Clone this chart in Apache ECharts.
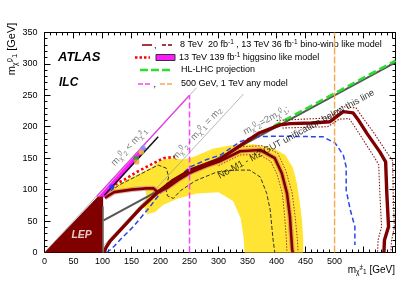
<!DOCTYPE html>
<html><head><meta charset="utf-8">
<script src="https://cdn.jsdelivr.net/npm/echarts@6/dist/echarts.min.js"></script>
<style>html,body{margin:0;padding:0;background:#fff}#c{width:418px;height:289px}</style>
</head><body><div id="c"></div>
<script>
// ---------------- data (GeV) ----------------
const xTickLabels = [0,50,100,150,200,250,300,350,400,450,500];
const yTickLabels = [0,50,100,150,200,250,300,350];

const lepRegion = [[0,0],[92,89],[101,89],[101,0]];
const lepEdge = [[101,0],[101,73]];

const higgsinoFill = [[93,89],[170,168],[176,165],[104,88]];
const higgsinoEdge = [[103,91],[196,184]];
const higgsinoObs = [[116,102],[125,110],[136,115],[159,128],[182,139],[205,150],[225,152]];
const higgsinoPoints = [[116,104],[158,150],[159,144],[167,160],[170,166]];

const binoWinoBand = [[103,95],[130,110],[160,124],[185,136],[200,146],[218,150],[240,148],[260,153],[290,165],[320,170],[360,172],[394,166],[415,155],[428,135],[435,110],[440,80],[444,50],[446,20],[446,0],[345,0],[343,25],[338,55],[325,82],[300,96],[262,94],[230,86],[205,76],[190,64],[177,61],[172,72],[176,90],[172,106],[150,102],[125,95],[105,88]];
const binoWinoExp = [[105,92],[130,108],[160,122],[185,134],[196,139],[210,134],[214,120],[209,102],[212,90],[222,86],[234,98],[260,114],[297,128],[330,131],[354,131],[372,120],[383,94],[389,68],[394,20],[397,0]];

const obs13 = [[103,0],[106,8],[113,18],[125,30],[145,50],[165,70],[193,94],[222,115],[251,131],[291,145],[302,148],[337,170],[370,190],[406,203],[423,205],[460,206],[492,208],[515,224],[532,222],[540,212],[556,189],[578,160],[588,144],[590,94],[593,41],[586,20],[585,0]];
const obs13Up = [[400,210],[492,214],[512,232],[537,230],[548,215],[568,190],[588,162],[600,146],[601,95],[603,40],[598,18],[597,0]];
const obs13Down = [[410,198],[488,200],[508,212],[525,213],[532,204],[546,184],[566,155],[576,140],[578,94],[581,41],[575,20],[574,0]];

const obs8 = [[104,87],[120,96],[150,100],[175,102],[188,102],[195,96],[210,102],[230,115],[251,127],[280,138],[302,145],[337,161],[372,163],[397,150],[409,126],[418,94],[423,57],[427,4],[428,0]];
const obs8Up = [[305,152],[340,168],[375,170],[402,158],[416,130],[427,94],[432,57],[436,20],[437,0]];
const obs8Down = [[300,138],[337,155],[370,156],[390,145],[401,124],[410,94],[414,57],[417,20],[418,0]];

const exp139 = [[107,0],[113,4],[120,10],[130,20],[153,41],[182,73],[200,95],[225,115],[251,136],[280,148],[303,155],[337,176],[360,184],[400,185],[480,184],[501,174],[515,155],[520,136],[520,99],[527,68],[535,41],[535,12]];
const hlLhc = [[395,201],[605,305]];

const diagLine = [[0,0],[262,262]];
const mzLine = [[91,0],[343,252]];
const twoMLine = [[101,50.5],[605,302.5]];

const ilc500Diag = [[90,89],[250,250]];
const ilc500Vert = [[250,0],[250,250]];
const ilc1000Vert = [[500,0],[500,350]];

// label anchors (data coordinates)
const lblLEP = [64,28];
const lblDiag = [146,168];
const lblMz = [263,189];
const lblTwoM = [382,210];
const lblGut = [434,188];

// ---------------- styling ----------------
const F = 'Liberation Sans, Arial, sans-serif';
const DR = '#800000';
const sub = {fontSize:6.5, padding:[5,0,0,0], fontFamily:F};
const sup = {fontSize:6.5, padding:[0,0,5,0], fontFamily:F};

function poly(data, fill, stroke, lw, z){
  return {type:'custom', coordinateSystem:'cartesian2d', data:data, z:z, silent:true, animation:false,
    renderItem:function(params, api){
      if(params.dataIndex!==0) return null;
      const pts = data.map(p=>api.coord(p));
      return {type:'polygon', shape:{points:pts}, style:{fill:fill, stroke:stroke||null, lineWidth:lw||0}};
    }};
}
function ln(data, color, width, type, z, extra){
  return Object.assign({type:'line', data:data, symbol:'none', showSymbol:false, silent:true, animation:false, z:z,
    lineStyle:{color:color, width:width, type:type||'solid', cap:'butt', join:'round'}}, extra||{});
}
function lbl(pos, text, rot, color, size, weight, style, rich){
  return {value:pos, label:{show:true, position:'inside', formatter:text, rotate:rot, color:color,
    fontSize:size, fontWeight:weight||'normal', fontStyle:style||'normal', fontFamily:F, rich:rich||{}}};
}
const richG = {sb:Object.assign({color:'#555'},sub), sp:Object.assign({color:'#555'},sup)};
const richK = {sb:Object.assign({color:'#000'},sub), sp:Object.assign({color:'#000'},sup)};
const richT = {sb:{color:'#000', fontSize:7.5, padding:[5,0,0,0], fontFamily:F}, sp:{color:'#000', fontSize:7.5, padding:[0,0,5,0], fontFamily:F}};

const axisCommon = {
  axisLine:{show:true, onZero:false, lineStyle:{color:'#000', width:1}},
  axisTick:{show:true, inside:true, length:6, lineStyle:{color:'#000', width:1}},
  minorTick:{show:true, splitNumber:5, length:3, lineStyle:{color:'#000', width:1}},
  splitLine:{show:false}
};

const chart = echarts.init(document.getElementById('c'), null, {renderer:'canvas'});
chart.setOption({
  animation:false,
  backgroundColor:'#fff',
  grid:{left:44.5, right:22.5, top:32.4, bottom:36.5, containLabel:false},
  xAxis:[
    Object.assign({type:'value', min:0, max:605, interval:50, position:'bottom',
      axisLabel:{formatter:v=>xTickLabels.includes(v)?String(v):'', margin:5, fontSize:9, color:'#000', fontFamily:F}}, axisCommon),
    Object.assign({type:'value', min:0, max:605, interval:50, position:'top', axisLabel:{show:false}}, axisCommon)
  ],
  yAxis:[
    Object.assign({type:'value', min:0, max:350, interval:50, position:'left',
      axisLabel:{formatter:v=>yTickLabels.includes(v)?String(v):'', margin:7, fontSize:9, color:'#000', fontFamily:F}}, axisCommon),
    Object.assign({type:'value', min:0, max:350, interval:50, position:'right', axisLabel:{show:false}}, axisCommon)
  ],
  series:[
    poly(binoWinoBand, '#ffe433', null, 0, 1),
    ln(diagLine, '#9a9a9a', 0.7, 'solid', 2),
    ln(mzLine, '#9a9a9a', 0.7, 'solid', 2),
    ln(twoMLine, '#555555', 2, 'solid', 3),
    ln(binoWinoExp, '#333333', 1, [4,2], 4),
    ln(hlLhc, '#2ede2e', 2.6, [8,4], 4),
    ln(exp139, '#2a44ee', 1.5, [5,3], 5),
    ln(ilc1000Vert, '#f5aa50', 1.4, [7,2], 5),
    ln(obs13Up, '#8b1a1a', 1.1, [1.5,1.5], 6),
    ln(obs13Down, '#8b1a1a', 1.1, [1.5,1.5], 6),
    ln(obs8Up, '#a33', 1.0, [1.5,1.5], 6),
    ln(obs8Down, '#a33', 1.0, [1.5,1.5], 6),
    ln(obs8, 'rgba(205,110,110,0.55)', 5, 'solid', 6),
    ln(obs8, DR, 2.6, 'solid', 7),
    ln(obs13, DR, 3.4, 'solid', 7),
    ln(higgsinoObs, '#ff0000', 2.6, [2.5,2.5], 8),
    poly(higgsinoFill, '#ff1aff', null, 0, 8),
    ln(higgsinoEdge, '#111', 1.5, 'solid', 9),
    ln(ilc500Diag, '#e040e0', 1.3, 'solid', 9),
    ln(ilc500Vert, '#ff40ff', 1.5, [6,3], 9),
    poly(lepRegion, DR, null, 0, 10),
    ln(lepEdge, '#777', 1.5, 'solid', 10),
    {type:'scatter', z:11, silent:true, animation:false, symbolSize:5.5,
      data:higgsinoPoints.map((p,i)=>({value:p, itemStyle:{color:['#1f3fff','#2e9b2e','#f5a040','#f0d020','#7aa0ff'][i]}}))},
    {type:'scatter', z:12, silent:true, animation:false, symbolSize:0,
      data:[
        lbl(lblLEP, 'LEP', 0, '#fff', 10.5, 'bold', 'italic'),
        lbl(lblDiag, 'm{sb|χ̃}{sp|0}{sb|2} < m{sb|χ̃}{sp|±}{sb|1}', 47, '#555', 9.5, 'normal', 'normal', richG),
        lbl(lblMz, 'm{sb|χ̃}{sp|0}{sb|2} - m{sb|χ̃}{sp|0}{sb|1} = m{sb|Z}', 47, '#555', 9.5, 'normal', 'normal', richG),
        lbl(lblTwoM, 'm{sb|χ̃}{sp|0}{sb|2}=2m{sb|χ̃}{sp|0}{sb|1};', 28.5, '#555', 9.5, 'normal', 'normal', richG),
        lbl(lblGut, 'No-M1 - M2 GUT unification below this line', 28.5, '#000', 9.3, 'normal', 'normal', richK)
      ]}
  ],
  graphic:[
    {type:'text', x:58, y:57, style:{text:'ATLAS', font:'italic bold 13px '+F, fill:'#000', verticalAlign:'middle'}},
    {type:'text', x:59, y:83, style:{text:'ILC', font:'italic bold 12px '+F, fill:'#000', verticalAlign:'middle'}},
    // y-axis title
    {type:'text', x:12, y:49, rotation:Math.PI/2, style:{text:'m{sb|χ̃}{sp|0}{sb|1} [GeV]', font:'11px '+F, fill:'#000', align:'center', verticalAlign:'middle', rich:richT}},
    // x-axis title
    {type:'text', x:395, y:270, style:{text:'m{sb|χ̃}{sp|±}{sb|1} [GeV]', font:'10px '+F, fill:'#000', align:'right', verticalAlign:'middle', rich:richK}},
    // legend row 1
    {type:'line', shape:{x1:142,y1:45,x2:152,y2:45}, style:{stroke:'#a03c3c', lineWidth:2}},
    {type:'text', x:154, y:46, style:{text:',', font:'9px '+F, fill:'#000', verticalAlign:'middle'}},
    {type:'line', shape:{x1:162,y1:45,x2:173,y2:45}, style:{stroke:'#a03c3c', lineWidth:2, lineDash:[4,2]}},
    {type:'text', x:180, y:45, style:{text:'8 TeV  20 fb{sp|-1} , 13 TeV 36 fb{sp|-1} bino-wino like model', font:'9px '+F, fill:'#000', verticalAlign:'middle', rich:richK}},
    // legend row 2
    {type:'line', shape:{x1:135,y1:57.5,x2:150,y2:57.5}, style:{stroke:'#ff0000', lineWidth:2.5, lineDash:[2.5,2]}},
    {type:'rect', shape:{x:156,y:54.5,width:19,height:6}, style:{fill:'#ff1aff', stroke:'#333', lineWidth:1}},
    {type:'text', x:179, y:57.5, style:{text:'13 TeV 139 fb{sp|-1} higgsino like model', font:'9px '+F, fill:'#000', verticalAlign:'middle', rich:richK}},
    // legend row 3
    {type:'line', shape:{x1:140,y1:70,x2:173,y2:70}, style:{stroke:'#2ede2e', lineWidth:2.6, lineDash:[8,3]}},
    {type:'text', x:181, y:70, style:{text:'HL-LHC projection', font:'9px '+F, fill:'#000', verticalAlign:'middle'}},
    // legend row 4
    {type:'line', shape:{x1:138,y1:84,x2:152,y2:84}, style:{stroke:'#ff40ff', lineWidth:1.5, lineDash:[5,2]}},
    {type:'text', x:153.5, y:85, style:{text:',', font:'9px '+F, fill:'#000', verticalAlign:'middle'}},
    {type:'line', shape:{x1:160,y1:84,x2:173,y2:84}, style:{stroke:'#f5aa50', lineWidth:1.5, lineDash:[5,2]}},
    {type:'text', x:181, y:84, style:{text:'500 GeV, 1 TeV any model', font:'9px '+F, fill:'#000', verticalAlign:'middle'}}
  ]
});
</script>
</body></html>
